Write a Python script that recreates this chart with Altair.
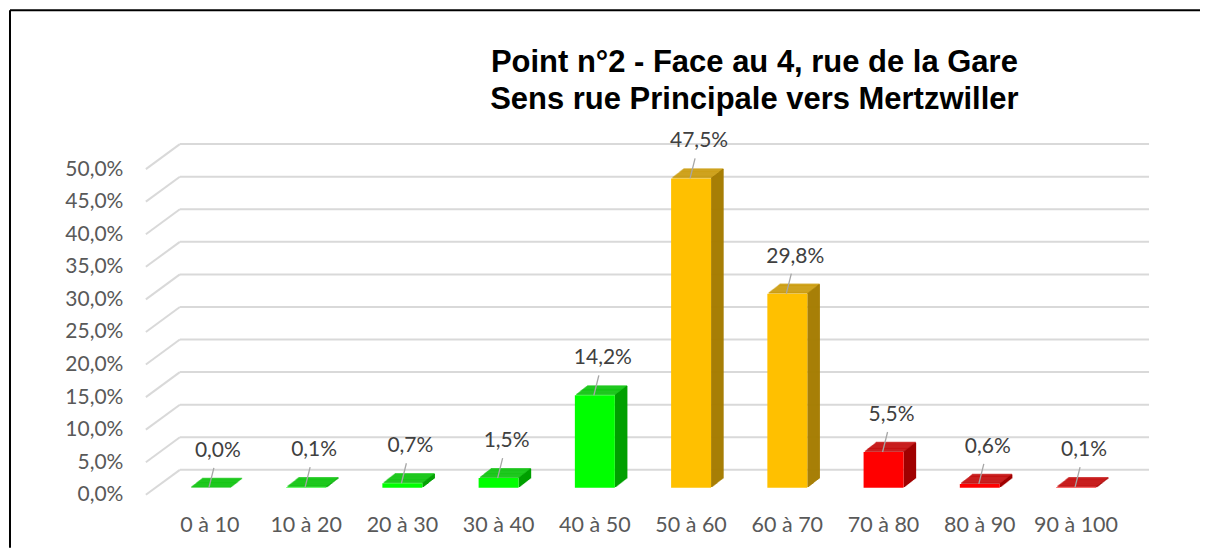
import altair as alt
import pandas as pd

categories = ["0 à 10", "10 à 20", "20 à 30", "30 à 40", "40 à 50",
              "50 à 60", "60 à 70", "70 à 80", "80 à 90", "90 à 100"]
values = [0.0, 0.1, 0.7, 1.5, 14.2, 47.5, 29.8, 5.5, 0.6, 0.1]
zones = ["vert", "vert", "vert", "vert", "vert",
         "orange", "orange", "rouge", "rouge", "rouge"]
y_ticks = [0, 5, 10, 15, 20, 25, 30, 35, 40, 45, 50]
title_line1 = "Point n°2 - Face au 4, rue de la Gare"
title_line2 = "Sens rue Principale vers Mertzwiller"

zone_domain = ["vert", "orange", "rouge"]
front_colors = ["#00FF00", "#FFC000", "#FF0000"]
top_colors = ["#00C000", "#C99700", "#C00000"]
side_colors = ["#00A000", "#A57C00", "#A00000"]

df = pd.DataFrame({"cat": categories, "val": values, "zone": zones})
df["label"] = [f"{v:.1f}".replace(".", ",") + "%" for v in values]
grid_df = pd.DataFrame({"val": y_ticks})
one = pd.DataFrame({"a": [0]})

W, H = 995, 326
FONT = "Lato"

yscale = alt.Scale(domain=[0, 50], nice=False, zero=True)
xscale = alt.Scale(paddingInner=0, paddingOuter=0.165)

X = alt.X("cat:N", sort=categories, scale=xscale,
          axis=alt.Axis(title=None, labelAngle=0, ticks=False, domain=False, grid=False,
                        labelPadding=27, labelFont=FONT, labelFontSize=21.5,
                        labelColor="#595959"))
Y = alt.Y("val:Q", scale=yscale,
          axis=alt.Axis(title=None, values=y_ticks, grid=False, ticks=False,
                        domain=False, labelPadding=23, labelFont=FONT,
                        labelFontSize=21, labelColor="#595959", labelOffset=7,
                        labelExpr="replace(format(datum.value, '.1f'), '.', ',') + '%'"))


def zcolor(rng):
    return alt.Color("zone:N", scale=alt.Scale(domain=zone_domain, range=rng), legend=None)


layers = []

# border (left & top)
layers.append(alt.Chart(one).mark_rule(color="black", strokeWidth=2).encode(
    x=alt.value(-136), y=alt.value(-152), y2=alt.value(H + 60)))
layers.append(alt.Chart(one).mark_rule(color="black", strokeWidth=2).encode(
    x=alt.value(-136), x2=alt.value(W + 60), y=alt.value(-152)))

# title
layers.append(alt.Chart(one).mark_text(text=title_line1, font="Liberation Sans", fontSize=31,
                                       fontWeight="bold", color="black", align="center",
                                       baseline="alphabetic").encode(
    x=alt.value(609), y=alt.value(-90)))
layers.append(alt.Chart(one).mark_text(text=title_line2, font="Liberation Sans", fontSize=31,
                                       fontWeight="bold", color="black", align="center",
                                       baseline="alphabetic").encode(
    x=alt.value(609), y=alt.value(-53)))

# back-wall gridlines and slanted side-wall lines
layers.append(alt.Chart(grid_df).mark_rule(color="#D9D9D9", strokeWidth=2, yOffset=-18).encode(
    y=Y, x=alt.value(34), x2=alt.value(W + 9)))
layers.append(alt.Chart(grid_df).mark_rule(color="#D9D9D9", strokeWidth=2, yOffset=7, y2Offset=-18).encode(
    y=Y, y2="val:Q", x=alt.value(0), x2=alt.value(34)))

# 3D depth: top faces and side faces
for k in range(1, 13):
    dy = -0.78 * k
    layers.append(alt.Chart(df).mark_tick(size=40, thickness=1.6, xOffset=k + 0.3, yOffset=dy,
                                          orient="horizontal").encode(
        x=X, y=Y, color=zcolor(top_colors)))
for k in range(1, 13):
    dy = -0.78 * k
    layers.append(alt.Chart(df).mark_rule(strokeWidth=1.6, xOffset=20 + k - 0.2,
                                          yOffset=dy, y2Offset=dy).encode(
        x=X, y=Y, y2=alt.datum(0), color=zcolor(side_colors)))

# front faces
layers.append(alt.Chart(df).mark_bar(size=40).encode(x=X, y=Y, color=zcolor(front_colors)))

# leader lines
layers.append(alt.Chart(df).mark_rule(color="#A6A6A6", strokeWidth=1.3, xOffset=-1, x2Offset=4,
                                      y2Offset=-20).encode(
    x=X, x2=alt.X2("cat:N"), y=Y, y2=alt.Y2("val:Q")))

# value labels
layers.append(alt.Chart(df).mark_text(dx=8, dy=-37, font=FONT, fontSize=21, color="#404040",
                                      baseline="middle").encode(x=X, y=Y, text="label:N"))

chart = alt.layer(*layers).resolve_scale(color="independent").properties(
    width=W, height=H,
    padding={"left": 138, "top": 154, "right": 60, "bottom": 60},
    autosize=alt.AutoSizeParams(type="none"),
    background="white",
).configure_view(stroke=None)

chart.save("out.html", embed_options={"renderer": "svg", "actions": False})
